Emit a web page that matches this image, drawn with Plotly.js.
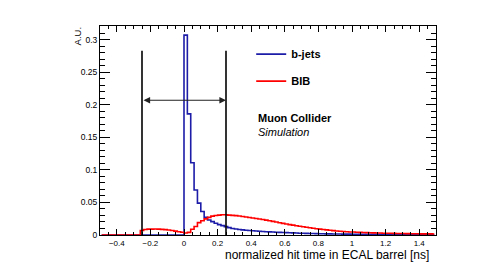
<!DOCTYPE html>
<html><head><meta charset="utf-8">
<script src="https://cdn.plot.ly/plotly-3.0.1.min.js"></script>
<style>html,body{margin:0;padding:0;background:#fff;}#chart{width:498px;height:280px;}</style>
</head><body><div id="chart"></div>
<script>
// bin centres of the histograms (ns), bin width 0.02
const binCenters = [-0.49,-0.47,-0.45,-0.43,-0.41,-0.39,-0.37,-0.35,-0.33,-0.31,
 -0.29,-0.27,-0.25,-0.23,-0.21,-0.19,-0.17,-0.15,-0.13,-0.11,
 -0.09,-0.07,-0.05,-0.03,-0.01,0.01,0.03,0.05,0.07,0.09,
 0.11,0.13,0.15,0.17,0.19,0.21,0.23,0.25,0.27,0.29,
 0.31,0.33,0.35,0.37,0.39,0.41,0.43,0.45,0.47,0.49,
 0.51,0.53,0.55,0.57,0.59,0.61,0.63,0.65,0.67,0.69,
 0.71,0.73,0.75,0.77,0.79,0.81,0.83,0.85,0.87,0.89,
 0.91,0.93,0.95,0.97,0.99,1.01,1.03,1.05,1.07,1.09,
 1.11,1.13,1.15,1.17,1.19,1.21,1.23,1.25,1.27,1.29,
 1.31,1.33,1.35,1.37,1.39,1.41,1.43,1.45,1.47,1.49];

const bjets = [0,0,0,0,0,0,0,0,0,0,
 0,0,0,0,0,0,0,0,0,0,
 0,0,0,0,0,0.307,0.186,0.111,0.069,0.049,
 0.036,0.027,0.023,0.0205,0.018,0.016,0.0144,0.0128,0.0113,0.0100,
 0.0092,0.0085,0.0079,0.0074,0.0069,0.0065,0.0061,0.0057,0.0054,0.0051,
 0.0048,0.0045,0.0043,0.0040,0.0038,0.0036,0.0034,0.0032,0.0030,0.0028,
 0.0027,0.0025,0.0024,0.0022,0.0021,0.0020,0.0019,0.0018,0.0017,0.0016,
 0.0016,0.0015,0.0014,0.0014,0.0013,0.0012,0.0012,0.0011,0.0011,0.0010,
 0.0010,0.0009,0.0009,0.0009,0.0008,0.0008,0.0008,0.0007,0.0007,0.0007,
 0.0006,0.0006,0.0006,0.0006,0.0005,0.0005,0.0005,0.0005,0.0004,0.0004];

const bib = [0,0,0,0,0,0,0,0,0,0,
 0,0,0.0070,0.0085,0.0090,0.0091,0.0092,0.0090,0.0087,0.0082,
 0.0076,0.0068,0.0060,0.0051,0.0042,0.0030,0.0040,0.0088,0.0130,0.0190,
 0.0220,0.0247,0.0270,0.0290,0.0300,0.0306,0.0310,0.0310,0.0306,0.0301,
 0.0297,0.0291,0.0285,0.0277,0.0269,0.0261,0.0253,0.0245,0.0237,0.0229,
 0.0220,0.0210,0.0199,0.0189,0.0179,0.0170,0.0160,0.0151,0.0142,0.0134,
 0.0126,0.0118,0.0111,0.0103,0.0096,0.0090,0.0084,0.0078,0.0072,0.0067,
 0.0062,0.0058,0.0054,0.0050,0.0047,0.0045,0.0043,0.0041,0.0039,0.0037,
 0.0035,0.0033,0.0031,0.0030,0.0028,0.0027,0.0026,0.0025,0.0024,0.0023,
 0.0022,0.0021,0.0020,0.0019,0.0019,0.0018,0.0018,0.0017,0.0017,0.0016];

const seriesNames = ['b-jets', 'BIB'];
const cutEdges = [-0.25, 0.25];
const cutLineTop = 0.283;
const arrowLevel = 0.207;
const xTitle = 'normalized hit time in ECAL barrel [ns]';
const yTitle = 'A.U.';
const labelLines = ['Muon Collider', 'Simulation'];

const FONT = 'Liberation Sans, Arial, Helvetica, sans-serif';

const traces = [
  {x: binCenters, y: bjets, name: seriesNames[0], type: 'scatter', mode: 'lines',
   line: {shape: 'hvh', color: '#1c1ca8', width: 1.6}, legendgroup: 'a'},
  {x: binCenters, y: bib, name: seriesNames[1], type: 'scatter', mode: 'lines',
   line: {shape: 'hvh', color: '#ff0000', width: 1.6}, legendgroup: 'b'}
];

const shapes = cutEdges.map(c => ({type: 'line', xref: 'x', yref: 'y',
  x0: c, x1: c, y0: 0, y1: cutLineTop, line: {color: '#000', width: 1.6}}));

const annotations = [
  {xref: 'x', yref: 'y', axref: 'x', ayref: 'y', x: cutEdges[1], y: arrowLevel,
   ax: cutEdges[0], ay: arrowLevel, text: '', showarrow: true, arrowside: 'end+start',
   arrowhead: 2, arrowsize: 1.2, arrowwidth: 1.1, arrowcolor: '#222'},
  {xref: 'paper', yref: 'paper', x: 0.986, y: -0.055, xanchor: 'right', yanchor: 'top',
   text: xTitle, showarrow: false, font: {family: FONT, size: 12, color: '#000'}},
  {xref: 'paper', yref: 'paper', x: -0.067, y: 1.005, xanchor: 'center', yanchor: 'top',
   text: yTitle, textangle: -90, showarrow: false, font: {family: FONT, size: 9.5, color: '#000'}},
  {xref: 'paper', yref: 'paper', x: 0.464, y: 0.56, xanchor: 'left', yanchor: 'middle',
   text: '<b>' + labelLines[0] + '</b>', showarrow: false, font: {family: FONT, size: 11, color: '#000'}},
  {xref: 'paper', yref: 'paper', x: 0.464, y: 0.495, xanchor: 'left', yanchor: 'middle',
   text: '<i>' + labelLines[1] + '</i>', showarrow: false, font: {family: FONT, size: 11, color: '#000'}}
];

const axisCommon = {showgrid: false, zeroline: false, showline: true, linecolor: '#000',
  linewidth: 1, mirror: 'allticks', ticks: 'inside', tickcolor: '#000', tickwidth: 1};

const layout = {
  width: 498, height: 280,
  margin: {l: 100, r: 62, t: 26, b: 45},
  paper_bgcolor: '#fff', plot_bgcolor: '#fff',
  font: {family: FONT, color: '#000'},
  showlegend: true,
  legend: {x: 0.45, y: 0.935, xanchor: 'left', yanchor: 'top', bgcolor: 'rgba(0,0,0,0)',
    font: {family: FONT, size: 11, color: '#000', weight: 'bold'}, traceorder: 'grouped', tracegroupgap: 8},
  xaxis: Object.assign({}, axisCommon, {range: [-0.5, 1.5], tick0: 0, dtick: 0.2, ticklen: 6,
    tickfont: {family: FONT, size: 8}, minor: {dtick: 0.05, ticklen: 3, ticks: 'inside', tickcolor: '#000'}}),
  yaxis: Object.assign({}, axisCommon, {range: [0, 0.321], tick0: 0, dtick: 0.05, ticklen: 10,
    tickfont: {family: FONT, size: 8.5}, minor: {dtick: 0.01, ticklen: 5, ticks: 'inside', tickcolor: '#000'}}),
  shapes: shapes,
  annotations: annotations
};

Plotly.newPlot('chart', traces, layout, {staticPlot: true, displayModeBar: false});
</script>
</body></html>
